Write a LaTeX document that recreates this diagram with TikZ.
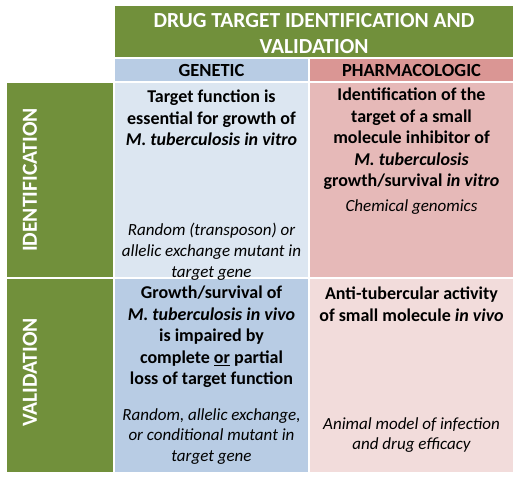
\documentclass[tikz,border=0pt]{standalone}
\usepackage{fontspec}
\setmainfont{Carlito}
\usetikzlibrary{positioning}
\definecolor{titlegreen}{HTML}{71903B}
\definecolor{genhead}{HTML}{B8CCE4}
\definecolor{genident}{HTML}{DCE6F1}
\definecolor{genvalid}{HTML}{B8CCE4}
\definecolor{pharmhead}{HTML}{DA9694}
\definecolor{pharmident}{HTML}{E6B9B8}
\definecolor{pharmvalid}{HTML}{F2DCDB}

\begin{document}
\begin{tikzpicture}[
  x=1pt, y=-1pt,
  cell/.style={fill=#1, draw=none, inner sep=0pt, outer sep=0pt},
  headtext/.style={font=\fontsize{18.5}{22}\selectfont\bfseries, text=black},
  sidetext/.style={font=\fontsize{21.5}{24}\selectfont\bfseries, text=white, rotate=90, inner sep=0pt},
  boldtext/.style={font=\fontsize{18}{21.5}\selectfont\bfseries, align=center,
    anchor=north, inner sep=0pt, execute at begin node=\strut},
  italtext/.style={font=\fontsize{17}{20.8}\selectfont\itshape, align=center,
    anchor=north, inner sep=0pt, execute at begin node=\strut}
]
\useasboundingbox (0,0) rectangle (521,480);

\node[cell=titlegreen, minimum width=398pt, minimum height=51pt] (title) at (314,31.5) {};
\node[font=\fontsize{21.5}{26}\selectfont\bfseries, text=white, align=center, inner sep=0pt]
  (titletext) at ([yshift=-2.5pt]title.center) {DRUG TARGET IDENTIFICATION AND\\VALIDATION};

\node[cell=genhead, minimum width=193pt, minimum height=22pt, headtext] (genetic) at (211.5,70) {GENETIC};
\node[cell=pharmhead, minimum width=203pt, minimum height=22pt, headtext] (pharma) at (411.5,70) {PHARMACOLOGIC};

\node[cell=titlegreen, minimum width=106pt, minimum height=194pt] (identside) at (60,180) {};
\node[cell=titlegreen, minimum width=106pt, minimum height=193pt] (validside) at (60,375.5) {};
\node[sidetext] (identlabel) at ([xshift=-30pt]identside.center) {IDENTIFICATION};
\node[sidetext] (validlabel) at ([xshift=-30pt,yshift=3pt]validside.center) {VALIDATION};

\node[cell=genident, minimum width=193pt, minimum height=194pt] (genid) at (211.5,180) {};
\node[cell=pharmident, minimum width=203pt, minimum height=194pt] (pharmid) at (411.5,180) {};
\node[cell=genvalid, minimum width=193pt, minimum height=193pt] (genval) at (211.5,375.5) {};
\node[cell=pharmvalid, minimum width=203pt, minimum height=193pt] (pharmval) at (411.5,375.5) {};

\node[boldtext] (genidtop) at ([yshift=-7pt]genid.north)
  {Target function is\\essential for growth of\\\textit{M. tuberculosis in vitro}};
\node[italtext] (genidbot) at ([yshift=-140pt]genid.north)
  {Random (transposon) or\\allelic exchange mutant in\\target gene};

\node[boldtext] (pharmidtop) at ([yshift=-5pt]pharmid.north)
  {Identification of the\\target of a small\\molecule inhibitor of\\\textit{M. tuberculosis}\\growth/survival \textit{in vitro}};
\node[italtext] (pharmidbot) at ([yshift=-114pt]pharmid.north)
  {Chemical genomics};

\node[boldtext] (genvaltop) at ([yshift=-7pt]genval.north)
  {Growth/survival of\\\textit{M. tuberculosis in vivo}\\is impaired by\\complete \underline{or} partial\\loss of target function};
\node[italtext] (genvalbot) at ([yshift=-129pt]genval.north)
  {Random, allelic exchange,\\or conditional mutant in\\target gene};

\node[boldtext] (pharmvaltop) at ([yshift=-8pt]pharmval.north)
  {Anti-tubercular activity\\of small molecule \textit{in vivo}};
\node[italtext] (pharmvalbot) at ([yshift=-138pt]pharmval.north)
  {Animal model of infection\\and drug efficacy};
\end{tikzpicture}
\end{document}
